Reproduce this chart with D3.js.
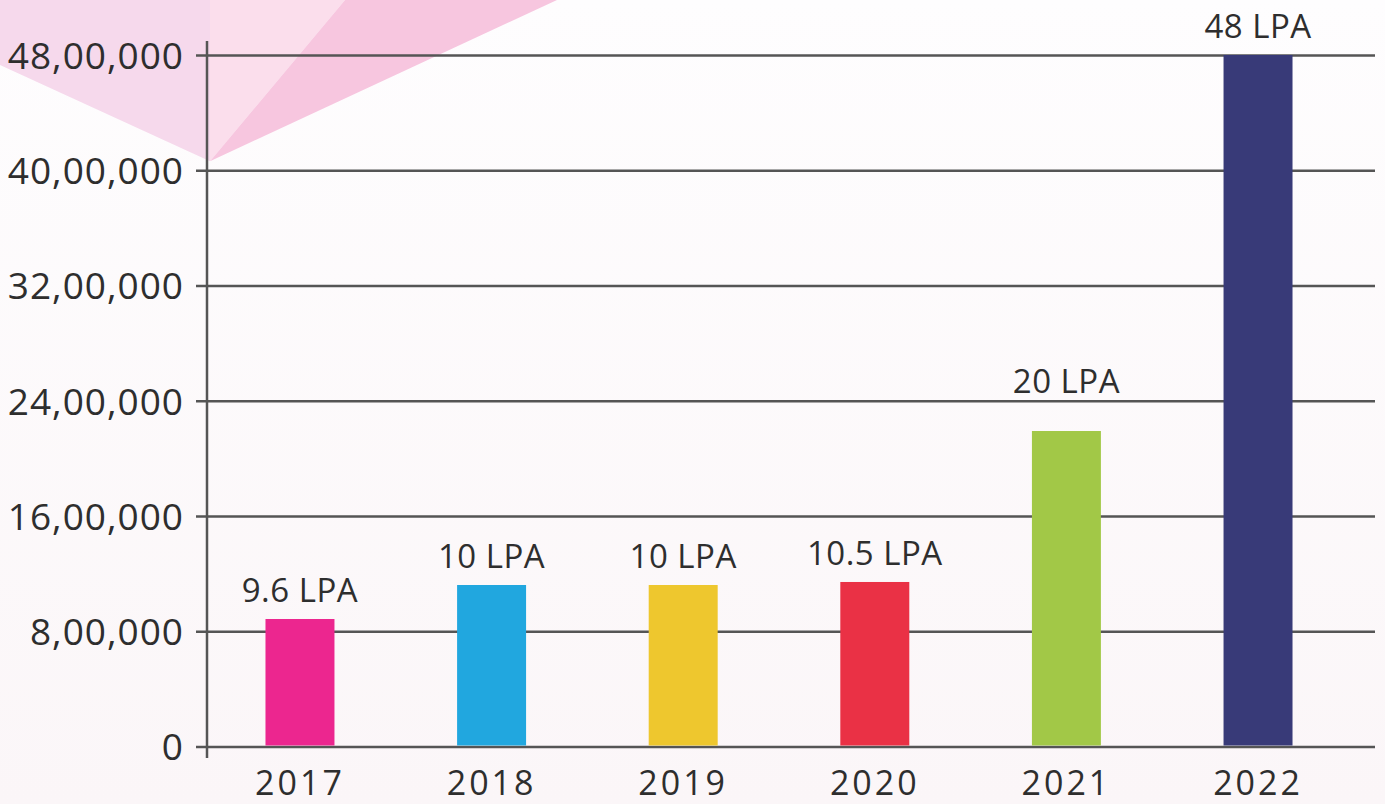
<!DOCTYPE html>
<html>
<head>
<meta charset="utf-8">
<script src="https://cdn.jsdelivr.net/npm/d3@7"></script>
<style>
  html, body { margin: 0; padding: 0; overflow: hidden; }
  text { font-family: "Open Sans", "Noto Sans", sans-serif; fill: #2e2e2e; }
</style>
</head>
<body>
<div id="chart"></div>
<script>
var years = ["2017", "2018", "2019", "2020", "2021", "2022"];
var salaries = [885000, 1121000, 1121000, 1142000, 2190000, 4800000];
var salaryLabels = ["9.6 LPA", "10 LPA", "10 LPA", "10.5 LPA", "20 LPA", "48 LPA"];
var barColors = ["#ec268f", "#21a7df", "#eec72e", "#ea3145", "#a2c847", "#383a78"];
var yTicks = [0, 800000, 1600000, 2400000, 3200000, 4000000, 4800000];

var width = 1385;
var height = 804;
var margin = {top: 55, right: 10, bottom: 58, left: 207};

var svg = d3.select("#chart")
            .append("svg")
            .attr("width", width)
            .attr("height", height);

// soft background
var defs = svg.append("defs");
var bg = defs.append("linearGradient")
             .attr("id", "bg")
             .attr("x1", 0).attr("y1", 0).attr("x2", 0).attr("y2", 1);
bg.append("stop").attr("offset", "0%").attr("stop-color", "#fefdfe");
bg.append("stop").attr("offset", "100%").attr("stop-color", "#fbf6f8");
svg.append("rect")
    .attr("width", width)
    .attr("height", height)
    .attr("fill", "url(#bg)");

var xScale = d3.scaleBand()
               .domain(years)
               .range([208, 1350])
               .paddingInner(0.64)
               .paddingOuter(0.3);

var yScale = d3.scaleLinear()
               .domain([0, 4800000])
               .range([746.5, margin.top]);

// pink fan decoration in the top-left corner
var apex = [margin.left + 3, yScale(4000000) - 9];
var fan = [
    {pts: [[0, 0], [apex[0], 0], apex, [0, 65]], fill: "#f6d9ec"},
    {pts: [[apex[0], 0], [345, 0], apex], fill: "#fbdeec"},
    {pts: [apex, [345, 0], [557, 0]], fill: "#f7c6df"}
];
svg.append("g")
    .selectAll("polygon")
    .data(fan)
    .join("polygon")
    .attr("points", d => d.pts.map(p => p.join(",")).join(" "))
    .attr("fill", d => d.fill);

// indian digit grouping: 48,00,000
function indian(v) {
    if (v === 0) return "0";
    var s = String(v);
    var last3 = s.slice(-3);
    var rest = s.slice(0, -3).replace(/\B(?=(\d{2})+(?!\d))/g, ",");
    return rest + "," + last3;
}

var yAxis = svg.append("g")
    .attr("transform", `translate(${margin.left}, 0)`)
    .call(d3.axisLeft(yScale)
            .tickValues(yTicks)
            .tickSize(-(1375 - margin.left))
            .tickSizeOuter(0)
            .tickPadding(23)
            .tickFormat(indian));
yAxis.select(".domain").remove();
yAxis.selectAll(".tick line")
    .attr("x1", -11)
    .attr("stroke", "#555")
    .attr("stroke-width", 2.5);
yAxis.selectAll(".tick text")
    .attr("font-size", 37)
    .attr("letter-spacing", 1)
    .attr("dy", "0.36em")
    .attr("fill", "#2e2e2e");

// vertical axis line
svg.append("line")
    .attr("x1", margin.left)
    .attr("x2", margin.left)
    .attr("y1", 41)
    .attr("y2", 758)
    .attr("stroke", "#555")
    .attr("stroke-width", 2.5);

// bars
svg.selectAll("rect.bar")
    .data(years)
    .join("rect")
    .attr("class", "bar")
    .attr("x", d => xScale(d))
    .attr("width", xScale.bandwidth())
    .attr("y", (d, i) => yScale(salaries[i]))
    .attr("height", (d, i) => yScale(0) - yScale(salaries[i]) - 1)
    .attr("fill", (d, i) => barColors[i]);

// value labels: sit above the bar, lifted over a grid line if they would cross it
function labelY(v) {
    var base = yScale(v) - 17;
    var top = base - 22;
    for (var t of yTicks) {
        var gy = yScale(t);
        if (gy > top && gy < base + 2 && gy < yScale(v) - 2) return gy - 8;
    }
    return base;
}
svg.selectAll("text.val")
    .data(years)
    .join("text")
    .attr("class", "val")
    .attr("x", d => xScale(d) + xScale.bandwidth() / 2)
    .attr("y", (d, i) => labelY(salaries[i]))
    .attr("text-anchor", "middle")
    .attr("font-size", 33)
    .attr("letter-spacing", 0.5)
    .text((d, i) => salaryLabels[i]);

// x axis labels
svg.selectAll("text.year")
    .data(years)
    .join("text")
    .attr("class", "year")
    .attr("x", d => xScale(d) + xScale.bandwidth() / 2)
    .attr("y", 795)
    .attr("text-anchor", "middle")
    .attr("font-size", 34)
    .attr("letter-spacing", 3)
    .text(d => d);
</script>
</body>
</html>
